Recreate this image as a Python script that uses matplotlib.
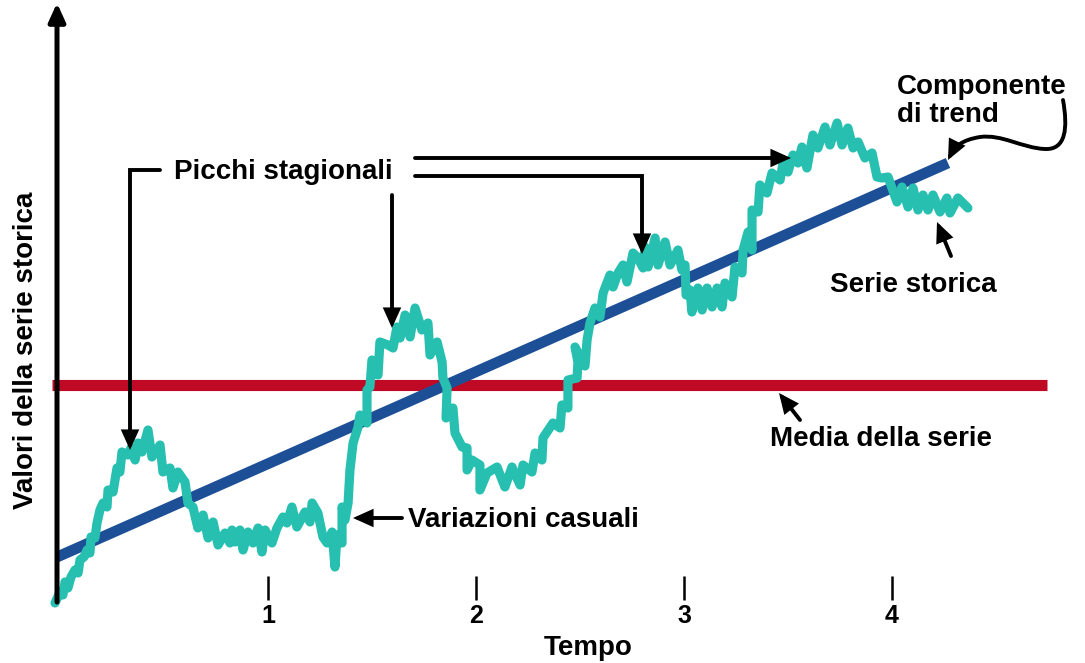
import matplotlib
matplotlib.use("Agg")
import matplotlib.pyplot as plt
from matplotlib.patches import FancyArrowPatch
from matplotlib.path import Path

# ---------------- data ----------------
tempo_ticks = [1, 2, 3, 4]
tick_labels = ["1", "2", "3", "4"]

serie_t = [-0.024, 0.000, 0.014, 0.024, 0.038, 0.053, 0.072, 0.087, 0.096, 0.115,
           0.130, 0.144, 0.149, 0.168, 0.178, 0.192, 0.207, 0.226, 0.231, 0.255,
           0.274, 0.288, 0.298, 0.327, 0.341, 0.361, 0.375, 0.394, 0.423, 0.442,
           0.481, 0.495, 0.529, 0.543, 0.567, 0.601, 0.615, 0.639, 0.663, 0.688,
           0.712, 0.736, 0.760, 0.793, 0.817,
           0.827, 0.841, 0.865, 0.880, 0.904, 0.928, 0.952, 0.971, 0.986, 1.019,
           1.043, 1.072, 1.091, 1.115, 1.139, 1.178, 1.202, 1.212, 1.240, 1.264,
           1.284, 1.308, 1.322, 1.332, 1.356, 1.356, 1.370, 1.385, 1.394, 1.409,
           1.433, 1.442, 1.476, 1.476, 1.490, 1.500, 1.529, 1.538, 1.577, 1.601,
           1.620, 1.635, 1.659, 1.683, 1.707,
           1.740, 1.769, 1.779, 1.813, 1.837, 1.841, 1.861, 1.856, 1.889, 1.899,
           1.933, 1.957, 1.957, 1.981, 2.019, 2.019, 2.053, 2.101, 2.139, 2.173,
           2.212, 2.226, 2.269, 2.284, 2.317, 2.322, 2.370, 2.404, 2.413, 2.442,
           2.442, 2.486, 2.490, 2.476, 2.524, 2.534, 2.548, 2.572,
           2.596, 2.611, 2.644, 2.659, 2.683, 2.707, 2.726, 2.755, 2.779, 2.803,
           2.812, 2.827, 2.861, 2.875, 2.909, 2.933, 2.971, 2.990, 3.005, 3.010,
           3.029, 3.038, 3.067, 3.087, 3.111, 3.135, 3.159, 3.183, 3.197, 3.231,
           3.245, 3.279, 3.284, 3.308, 3.327, 3.327, 3.356, 3.365, 3.399, 3.423,
           3.462, 3.476, 3.500, 3.524, 3.548, 3.567, 3.591, 3.620, 3.644, 3.678,
           3.702, 3.736, 3.760, 3.788, 3.813, 3.837, 3.870, 3.904, 3.928, 3.952,
           3.981, 4.000, 4.024, 4.048, 4.077, 4.101, 4.125, 4.149, 4.173, 4.197,
           4.231, 4.264, 4.279, 4.317, 4.365]

serie_v = [-0.6, 1.6, 1.0, 3.6, 2.4, 4.6, 6.0, 5.4, 8.0, 8.6,
           10.0, 9.4, 12.6, 12.4, 15.4, 18.0, 19.4, 18.6, 22.0, 21.6,
           26.4, 25.6, 29.6, 29.0, 30.4, 28.0, 31.4, 29.6, 34.0, 28.6,
           31.0, 25.6, 26.4, 22.4, 25.6, 23.6, 19.4, 18.6, 14.4, 17.0,
           12.4, 15.6, 11.0, 13.4, 11.4,
           14.0, 11.6, 14.0, 10.0, 13.6, 11.4, 14.4, 9.6, 14.0, 11.4,
           14.4, 16.6, 15.4, 18.6, 14.6, 17.6, 15.6, 19.4, 17.4, 12.6,
           11.4, 13.6, 6.6, 13.0, 11.4, 18.6, 16.0, 19.4, 26.0, 31.4,
           34.6, 37.0, 35.4, 42.0, 42.6, 48.0, 45.0, 51.6, 51.0, 50.4,
           54.6, 52.4, 57.0, 52.6, 58.4,
           54.0, 55.4, 49.0, 51.6, 47.6, 44.4, 42.4, 36.4, 38.4, 33.4,
           30.6, 30.4, 26.0, 28.0, 27.0, 22.0, 25.4, 26.6, 22.6, 26.6,
           23.0, 27.0, 25.6, 29.4, 28.0, 32.4, 35.4, 34.4, 39.0, 38.4,
           44.0, 44.4, 47.6, 50.6, 46.8, 52.0, 55.4, 58.4,
           56.6, 61.4, 65.0, 62.6, 65.4, 67.0, 63.6, 69.4, 68.4, 66.4,
           70.6, 66.6, 72.4, 67.0, 71.6, 67.0, 70.0, 66.0, 67.0, 61.0,
           62.0, 57.6, 62.4, 58.0, 62.4, 58.6, 62.4, 58.6, 63.4, 60.6,
           66.6, 65.4, 70.0, 73.6, 70.0, 78.0, 77.6, 83.0, 81.4, 85.4,
           84.0, 87.4, 85.6, 89.0, 87.4, 90.6, 86.4, 93.0, 90.4, 94.6,
           91.0, 95.4, 91.0, 94.4, 90.4, 91.6, 88.4, 89.4, 84.6, 84.4,
           84.6, 82.4, 79.6, 82.6, 78.6, 82.4, 78.0, 81.0, 78.0, 81.0,
           77.6, 80.4, 77.4, 80.4, 78.4]

trend_t = [-0.014, 4.269]
trend_v = [8.6, 87.4]

media_t = [-0.038, 4.745]
media_v = [43.0, 43.0]

# ---------------- style ----------------
TEAL = "#27BFB0"
BLUE = "#1C4F96"
RED = "#C00A25"
FONT = "Liberation Sans"
FS = 20

plt.rcParams["font.family"] = [FONT, "DejaVu Sans"]
plt.rcParams["font.weight"] = "bold"

fig = plt.figure(figsize=(10.85, 6.63), dpi=100)
ax = fig.add_axes([0, 0, 1, 1])
ax.set_xlim(-60 / 208, 1025 / 208)
ax.set_ylim(-63 / 5, 120)
for s in ax.spines.values():
    s.set_visible(False)
ax.spines["bottom"].set_position(("data", 0))


def P(px, py):
    """pixel position -> data position (for annotations only)."""
    return ((px - 60) / 208, (600 - py) / 5)


# series lines
ax.plot(media_t, media_v, color=RED, lw=8, solid_capstyle="butt", zorder=2)
ax.plot(trend_t, trend_v, color=BLUE, lw=7.8, solid_capstyle="butt", zorder=3)
ax.plot(serie_t, serie_v, color=TEAL, lw=6.6, solid_joinstyle="round",
        solid_capstyle="round", zorder=4)

# axes as arrows
ax.annotate("", xy=P(1097, 600), xytext=P(50, 600),
            arrowprops=dict(arrowstyle="-|>,head_length=0.75,head_width=0.3",
                            mutation_scale=20, lw=3.6, color="black",
                            shrinkA=0, shrinkB=0), zorder=5)
ax.annotate("", xy=P(57, 3), xytext=P(57, 602),
            arrowprops=dict(arrowstyle="-|>,head_length=0.55,head_width=0.25",
                            mutation_scale=20, lw=3.6, color="black",
                            shrinkA=0, shrinkB=0), zorder=5)

# ticks
ax.set_yticks([])
ax.set_xticks(tempo_ticks)
ax.set_xticklabels(tick_labels, fontsize=18, fontweight="bold")
ax.tick_params(axis="x", direction="in", length=17, width=1.8, pad=3,
               color="black")

# texts
ax.text(*P(588, 655), "Tempo", ha="center", va="baseline", fontsize=FS,
        fontweight="bold")
ax.text(*P(26, 350), "Valori della serie storica", ha="center", va="center",
        rotation=90, fontsize=FS, fontweight="bold")
ax.text(*P(283, 179), "Picchi stagionali", ha="center", va="baseline",
        fontsize=FS, fontweight="bold")
ax.text(*P(897, 94), "Componente", ha="left", va="baseline", fontsize=FS,
        fontweight="bold")
ax.text(*P(897, 122), "di trend", ha="left", va="baseline", fontsize=FS,
        fontweight="bold")
ax.text(*P(830, 292), "Serie storica", ha="left", va="baseline", fontsize=FS,
        fontweight="bold")
ax.text(*P(770, 446), "Media della serie", ha="left", va="baseline",
        fontsize=FS, fontweight="bold")
ax.text(*P(408, 527), "Variazioni casuali", ha="left", va="baseline",
        fontsize=FS, fontweight="bold")

ARW = "-|>,head_length=1.0,head_width=0.45"


def path_arrow(points, codes=None):
    verts = [P(*p) for p in points]
    if codes is None:
        codes = [Path.MOVETO] + [Path.LINETO] * (len(verts) - 1)
    pa = FancyArrowPatch(path=Path(verts, codes), arrowstyle=ARW,
                         mutation_scale=10, lw=2.8, color="black",
                         joinstyle="miter", zorder=6)
    ax.add_patch(pa)


path_arrow([(160, 170), (130, 170), (130, 450)])
path_arrow([(392, 195), (392, 328)])
path_arrow([(415, 176), (642, 176), (642, 254)])
path_arrow([(415, 158), (791, 158)])
path_arrow([(951, 256), (937, 222)])
path_arrow([(800, 420), (779, 393)])
path_arrow([(402, 518), (353, 518)])
# curvy arrow for trend component
path_arrow([(1063, 100), (1068, 128), (1066, 150), (1045, 149),
            (1022, 148), (1002, 134), (980, 137),
            (962, 140), (955, 146), (948, 160)],
           [Path.MOVETO, Path.CURVE4, Path.CURVE4, Path.CURVE4,
            Path.CURVE4, Path.CURVE4, Path.CURVE4,
            Path.CURVE4, Path.CURVE4, Path.CURVE4])

fig.savefig("out.png", dpi=100)
